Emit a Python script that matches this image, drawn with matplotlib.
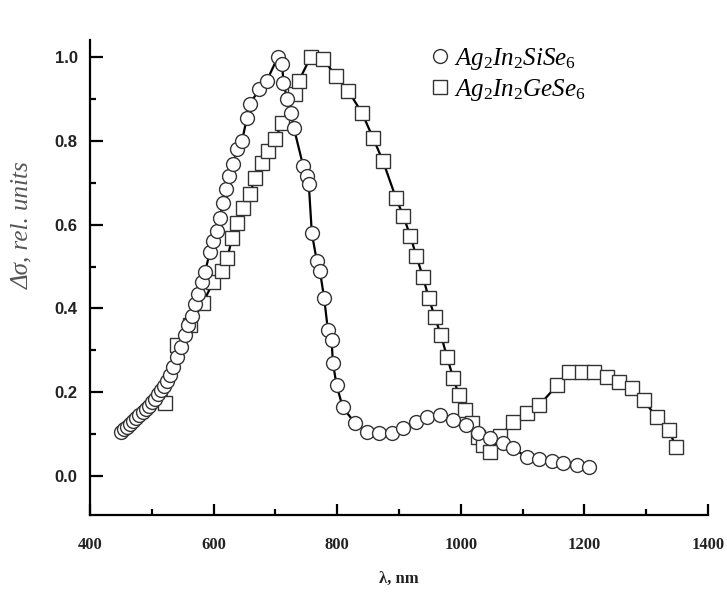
import numpy as np
import matplotlib.pyplot as plt
from matplotlib.ticker import MultipleLocator

plt.rcParams['mathtext.fontset'] = 'custom'
plt.rcParams['mathtext.it'] = 'Liberation Serif:italic'
plt.rcParams['mathtext.rm'] = 'Liberation Serif'

# Ag2In2SiSe6 (circles)
si_nm = [450, 455, 460, 465, 470, 475, 480, 485, 490, 495, 500, 505, 510, 515, 520,
         525, 530, 534, 540, 548, 553, 559, 565, 570, 575, 581, 586, 594, 599, 605,
         610, 615, 620, 625, 632, 638, 646, 654, 659, 674, 686, 704, 711, 713, 719,
         725, 730, 745, 751, 754, 759, 767, 772, 779, 785, 791, 793, 799, 809, 829,
         848, 868, 888, 907, 927, 945, 966, 988, 1008, 1028, 1047, 1068, 1084, 1107,
         1127, 1148, 1166, 1188, 1207]
si_val = [0.105, 0.112, 0.118, 0.125, 0.131, 0.138, 0.145, 0.152, 0.160, 0.168, 0.176,
          0.185, 0.195, 0.205, 0.216, 0.228, 0.242, 0.260, 0.283, 0.307, 0.336, 0.360,
          0.383, 0.410, 0.435, 0.462, 0.486, 0.535, 0.562, 0.586, 0.617, 0.652, 0.686,
          0.717, 0.745, 0.780, 0.800, 0.855, 0.888, 0.924, 0.943, 1.000, 0.983, 0.938,
          0.900, 0.867, 0.830, 0.740, 0.717, 0.698, 0.579, 0.514, 0.490, 0.424, 0.348,
          0.324, 0.271, 0.217, 0.164, 0.126, 0.105, 0.102, 0.103, 0.114, 0.129, 0.141,
          0.145, 0.133, 0.121, 0.102, 0.090, 0.079, 0.067, 0.045, 0.040, 0.036, 0.031,
          0.026, 0.021]

# Ag2In2GeSe6 (squares)
ge_nm = [521, 541, 562, 583, 599, 614, 622, 630, 638, 648, 659, 667, 678, 688, 700,
         711, 732, 738, 757, 777, 798, 818, 840, 858, 874, 895, 907, 918, 928, 939,
         948, 958, 968, 978, 988, 997, 1007, 1018, 1028, 1036, 1047, 1064, 1084, 1107,
         1127, 1156, 1175, 1196, 1216, 1236, 1256, 1277, 1296, 1317, 1337, 1348]
ge_val = [0.174, 0.312, 0.360, 0.414, 0.462, 0.490, 0.520, 0.567, 0.605, 0.640, 0.674,
          0.712, 0.748, 0.776, 0.805, 0.843, 0.912, 0.943, 1.000, 0.995, 0.955, 0.919,
          0.867, 0.807, 0.752, 0.664, 0.621, 0.574, 0.526, 0.474, 0.426, 0.379, 0.336,
          0.283, 0.233, 0.193, 0.157, 0.126, 0.093, 0.074, 0.057, 0.095, 0.129, 0.150,
          0.169, 0.217, 0.248, 0.248, 0.248, 0.236, 0.224, 0.210, 0.181, 0.140, 0.110,
          0.069]

fig = plt.figure(figsize=(7.27, 5.92), dpi=100)
ax = fig.add_axes([0.1238, 0.130, 0.850, 0.802])

ax.plot(ge_nm, ge_val, '-', color='black', lw=1.6, zorder=2)
ax.plot(si_nm, si_val, '-', color='black', lw=1.6, zorder=2)
ax.plot(ge_nm, ge_val, 's', ms=9.5, mfc='white', mec='#333333', mew=1.0,
        label=r'$\mathit{Ag_2In_2GeSe_6}$', zorder=3)
ax.plot(si_nm, si_val, 'o', ms=10, mfc='white', mec='#333333', mew=1.0,
        label=r'$\mathit{Ag_2In_2SiSe_6}$', zorder=4)

ax.set_xlim(400, 1400)
ax.set_ylim(-0.093, 1.04)
ax.xaxis.set_major_locator(MultipleLocator(200))
ax.xaxis.set_minor_locator(MultipleLocator(100))
ax.yaxis.set_major_locator(MultipleLocator(0.2))
ax.yaxis.set_minor_locator(MultipleLocator(0.1))

for s in ['top', 'right']:
    ax.spines[s].set_visible(False)
for s in ['left', 'bottom']:
    ax.spines[s].set_linewidth(1.6)

ax.tick_params(axis='y', which='major', direction='in', length=9, width=1.6, pad=9)
ax.tick_params(axis='y', which='minor', direction='in', length=4.5, width=1.6)
ax.tick_params(axis='x', which='major', direction='in', length=8, width=1.6, pad=16)
ax.tick_params(axis='x', which='minor', direction='in', length=4, width=1.6)

ax.set_yticklabels(['%.1f' % v for v in ax.get_yticks()])
for lab in ax.get_yticklabels():
    lab.set_fontfamily('Liberation Sans')
    lab.set_fontweight('bold')
    lab.set_fontsize(12)
    lab.set_color('#222222')
for lab in ax.get_xticklabels():
    lab.set_fontfamily('Liberation Serif')
    lab.set_fontweight('bold')
    lab.set_fontsize(12)
    lab.set_color('#222222')

ax.set_xlabel('λ, nm', fontfamily='Liberation Serif', fontweight='bold',
              fontsize=12, labelpad=13, color='#222222')
ax.set_ylabel('Δσ, rel. units', fontfamily='Liberation Serif', fontstyle='italic',
              fontsize=18, color='#555555')
ax.yaxis.set_label_coords(-0.092, 0.61)

handles, labels = ax.get_legend_handles_labels()
ax.legend(handles[::-1], labels[::-1], loc='upper left', bbox_to_anchor=(0.53, 1.01),
          frameon=False, fontsize=18, handletextpad=0.05, handlelength=1.0,
          labelspacing=0.2, borderaxespad=0)

fig.savefig('out.png', dpi=100)
